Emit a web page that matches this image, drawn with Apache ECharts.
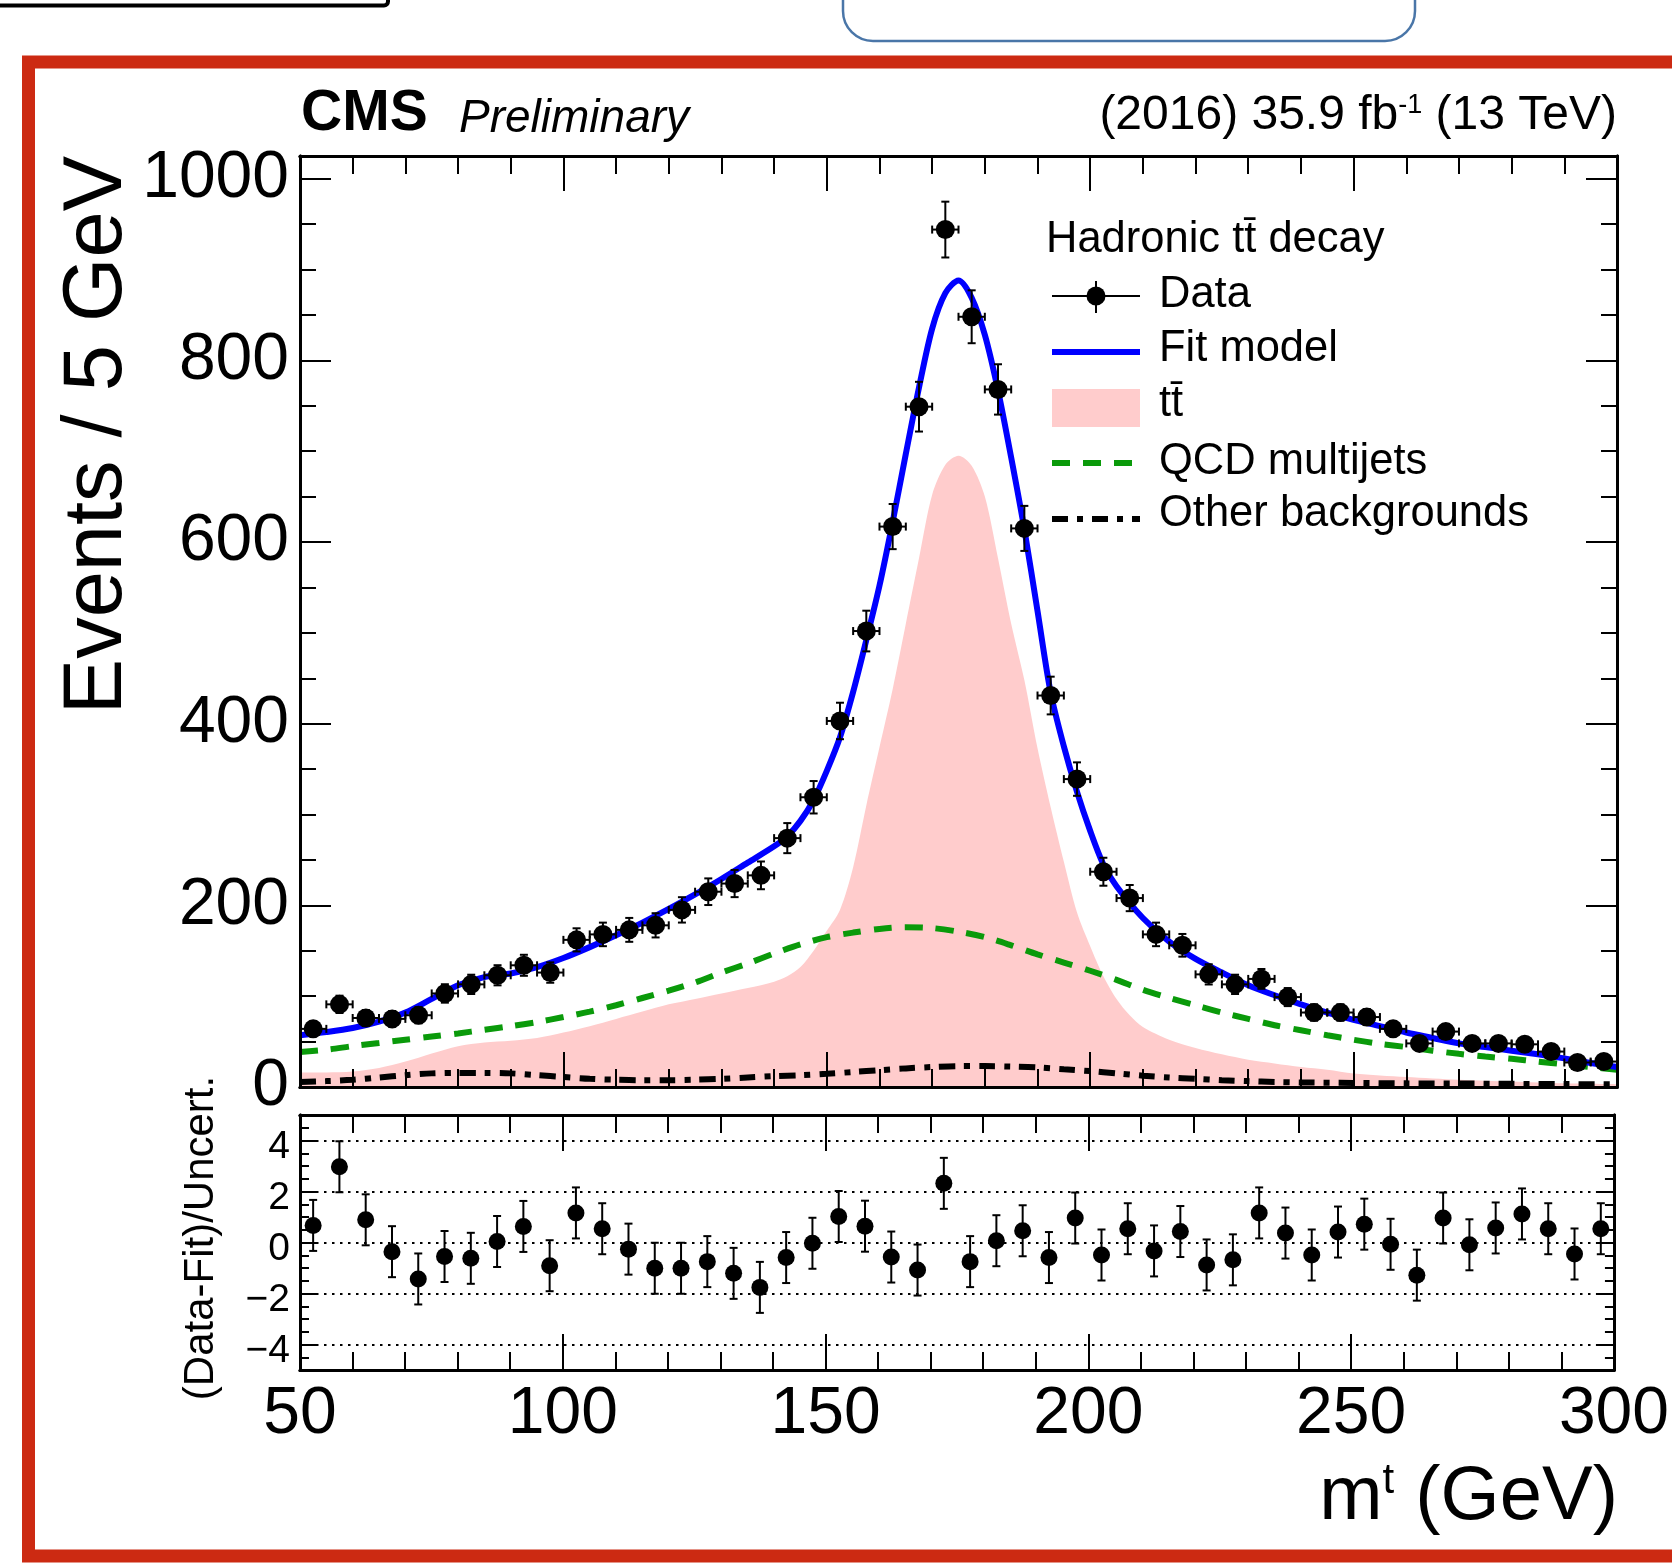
<!DOCTYPE html>
<html>
<head>
<meta charset="utf-8">
<title>Hadronic ttbar decay - top mass fit</title>
<script src="https://cdn.jsdelivr.net/npm/echarts@6/dist/echarts.min.js"></script>
<style>
  html, body { margin: 0; padding: 0; background: #fff; }
  #chart { width: 1672px; height: 1563px; }
</style>
</head>
<body>
<div id="chart"></div>
<script>
// bin centres (GeV), 5 GeV bins
const binCenters = [52.5, 57.5, 62.5, 67.5, 72.5, 77.5, 82.5, 87.5, 92.5, 97.5,
  102.5, 107.5, 112.5, 117.5, 122.5, 127.5, 132.5, 137.5, 142.5, 147.5,
  152.5, 157.5, 162.5, 167.5, 172.5, 177.5, 182.5, 187.5, 192.5, 197.5,
  202.5, 207.5, 212.5, 217.5, 222.5, 227.5, 232.5, 237.5, 242.5, 247.5,
  252.5, 257.5, 262.5, 267.5, 272.5, 277.5, 282.5, 287.5, 292.5, 297.5]
// events per bin (data)
const dataCounts = [64, 91, 76, 75, 79, 103, 113, 123, 134, 126,
  162, 168, 173, 178, 195, 215, 224, 233, 274, 319,
  403, 502, 617, 749, 944, 848, 768, 615, 431, 339,
  237, 208, 168, 156, 124, 113, 119, 99, 82, 82,
  77, 64, 48, 61, 48, 48, 47, 39, 27, 28]
// (Data-Fit)/Uncert. per bin
const pulls = [0.67, 2.97, 0.89, -0.36, -1.43, -0.55, -0.62, 0.04, 0.63, -0.91,
  1.16, 0.54, -0.26, -1.01, -1.01, -0.75, -1.21, -1.76, -0.59, -0.03,
  1.02, 0.64, -0.57, -1.08, 2.32, -0.75, 0.07, 0.46, -0.59, 0.96,
  -0.49, 0.54, -0.33, 0.43, -0.88, -0.68, 1.16, 0.37, -0.49, 0.41,
  0.72, -0.07, -1.28, 0.96, -0.09, 0.57, 1.12, 0.54, -0.45, 0.54]

// fit model curve
const fitX = [50, 55, 60, 65, 70, 75, 80, 85, 90, 95, 100, 105, 110, 115, 120, 125, 130, 135, 140,
  142.5, 145, 147.5, 150, 152.5, 155, 157.5, 160, 162.5, 165, 167.5, 170, 172.5, 175, 177.5, 180,
  182.5, 185, 187.5, 190, 192.5, 195, 197.5, 200, 202.5, 205,
  210, 215, 220, 225, 230, 235, 240, 245, 250, 255, 260, 265, 270, 275, 280, 285, 290, 295, 300]
const fitY = [57, 60.5, 65, 72, 82, 97, 112, 121, 125, 132, 142, 154, 167, 181, 196, 212, 229, 247, 265,
  276, 293, 316, 348, 385, 435, 492, 552, 622, 697, 770, 835, 874, 888, 869, 828,
  767, 693, 614, 524, 434, 375, 325, 282, 245, 221,
  186, 160, 141, 126, 112, 101, 91, 82, 74, 67, 60, 54, 48, 44, 40, 36, 31.5, 26.5, 22]

// ttbar component
const ttX = [50, 55, 60, 65, 70, 75, 80, 85, 90, 95, 100, 105, 110, 115, 120, 125, 130, 135, 140,
  142.5, 145, 147.5, 150, 152.5, 155, 157.5, 160, 162.5, 165, 167.5, 170, 172.5, 175, 177.5, 180,
  182.5, 185, 187.5, 190, 192.5, 195, 197.5, 200, 202.5, 205, 207.5, 210,
  215, 220, 225, 230, 235, 240, 245, 250, 260, 270, 280, 290, 300]
const ttY = [16, 16, 17, 21, 28, 37, 45, 49, 51, 54, 60, 67, 75, 83, 91, 97, 103, 109, 116,
  122, 132, 150, 172, 195, 242, 310, 374, 438, 510, 582, 652, 685, 695, 684, 650,
  582, 510, 448, 373, 308, 248, 192, 155, 122, 97, 79, 66,
  52, 43, 36, 30, 26, 22, 19, 15, 11, 8, 6, 4, 3]

// QCD multijet component
const qcdX = [50, 55, 60, 65, 70, 75, 80, 85, 90, 95, 100, 105, 110, 115, 120, 125, 130, 135, 140, 145,
  150, 155, 160, 165, 170, 175, 180, 185, 190, 195, 200, 205, 210, 215, 220, 225, 230, 235, 240, 245,
  250, 255, 260, 265, 270, 275, 280, 285, 290, 295, 300]
const qcdY = [38.6, 41, 45, 48.5, 52, 55.5, 59, 63, 67, 71.5, 77, 83, 90, 98, 106, 115, 126, 136, 147, 157,
  165, 170, 174, 176, 175, 171, 165, 156, 146, 137, 128, 118, 107, 98, 90, 82, 75, 68, 62.5, 57,
  52, 47.5, 44, 40, 36.5, 33.5, 31, 28, 25, 22, 19]

// other backgrounds
const otherX = [50, 55, 60, 65, 70, 75, 80, 85, 90, 95, 100, 105, 110, 115, 120, 125, 130, 135, 140, 145,
  150, 155, 160, 165, 170, 175, 180, 185, 190, 195, 200, 205, 210, 215, 220, 225, 230, 235, 240,
  250, 260, 270, 280, 290, 300]
const otherY = [5.5, 6.5, 8, 10.5, 13, 15, 15.5, 15.5, 15, 13, 11, 9, 8, 7.5, 7.5, 8, 9, 10.5, 12, 13,
  14.5, 16.5, 18.5, 20.5, 22, 23, 23, 22.5, 21.5, 19.5, 17.5, 15, 12.5, 10.5, 9, 7.5, 6.5, 5.5, 5,
  4.5, 4, 3.8, 3.5, 3.2, 3]

const pullTicks = [-4, -2, 0, 2, 4]
const pullGridLines = [-4, -2, 0, 2, 4]

const FONT = 'Liberation Sans'
const HALF_BIN = 2.5
const PULL_ERR = 1
const TT_COLOR = '#ffcccc'
const QCD_COLOR = '#0a9a0a'
const FIT_COLOR = '#0000ff'
const DASH_QCD = [18, 13]
const DASH_OTHER = [16, 9, 6, 9]
const CURVE_WIDTH = 6

function pairs (xs, ys) {
  return xs.map((x, i) => [x, ys[i]])
}

function minusSign (v) {
  return v < 0 ? '\u2212' + Math.abs(v) : String(v)
}

function xAx (gridIndex, position, interval, len, labels) {
  return {
    type: 'value', gridIndex: gridIndex, position: position, min: 50, max: 300, interval: interval, z: 10,
    axisLine: { show: true, onZero: false, lineStyle: { color: '#000', width: 3 } },
    axisTick: { show: true, inside: true, length: len, lineStyle: { color: '#000', width: 2 } },
    axisLabel: labels
      ? { show: true, margin: 12, fontSize: 66, fontFamily: FONT, color: '#000' }
      : { show: false },
    splitLine: { show: false }
  }
}

function yAx (gridIndex, position, min, max, interval, len, label, custom) {
  const ax = {
    type: 'value', gridIndex: gridIndex, position: position, min: min, max: max, interval: interval, z: 10,
    axisLine: { show: true, onZero: false, lineStyle: { color: '#000', width: 3 } },
    axisTick: { show: true, inside: true, length: len, lineStyle: { color: '#000', width: 2 } },
    axisLabel: label || { show: false },
    splitLine: { show: false }
  }
  if (custom) ax.axisTick.customValues = custom
  return ax
}

const mainLabel = {
  show: true, margin: 11, fontSize: 66, fontFamily: FONT, color: '#000', showMaxLabel: false,
  formatter: v => (v % 200 === 0 ? String(v) : '')
}
// root puts these labels a little below their tick
const pullLabel = {
  show: true, margin: 10, fontSize: 39, fontFamily: FONT, color: '#000', customValues: pullTicks,
  formatter: v => (v % 2 === 0 ? '{p|' + minusSign(v) + '}' : ''),
  rich: { p: { fontSize: 39, fontFamily: FONT, color: '#000', padding: [14, 0, 0, 0] } }
}

// data points with poisson error bars and bin-width bars
function renderData (params, api) {
  const x = api.value(0)
  const n = api.value(1)
  const err = Math.sqrt(n)
  const c = api.coord([x, n])
  const up = api.coord([x, n + err])
  const dn = api.coord([x, n - err])
  const lf = api.coord([x - HALF_BIN, n])
  const rt = api.coord([x + HALF_BIN, n])
  const st = { stroke: '#000', lineWidth: 2 }
  const cap = 4
  return {
    type: 'group',
    children: [
      { type: 'line', shape: { x1: c[0], y1: up[1], x2: c[0], y2: dn[1] }, style: st },
      { type: 'line', shape: { x1: c[0] - cap, y1: up[1], x2: c[0] + cap, y2: up[1] }, style: st },
      { type: 'line', shape: { x1: c[0] - cap, y1: dn[1], x2: c[0] + cap, y2: dn[1] }, style: st },
      { type: 'line', shape: { x1: lf[0], y1: c[1], x2: rt[0], y2: c[1] }, style: st },
      { type: 'line', shape: { x1: lf[0], y1: c[1] - cap, x2: lf[0], y2: c[1] + cap }, style: st },
      { type: 'line', shape: { x1: rt[0], y1: c[1] - cap, x2: rt[0], y2: c[1] + cap }, style: st },
      { type: 'circle', shape: { cx: c[0], cy: c[1], r: 9.5 }, style: { fill: '#000' } }
    ]
  }
}

function renderPull (params, api) {
  const x = api.value(0)
  const p = api.value(1)
  const c = api.coord([x, p])
  const up = api.coord([x, p + PULL_ERR])
  const dn = api.coord([x, p - PULL_ERR])
  const st = { stroke: '#000', lineWidth: 2 }
  const cap = 4
  return {
    type: 'group',
    children: [
      { type: 'line', shape: { x1: c[0], y1: up[1], x2: c[0], y2: dn[1] }, style: st },
      { type: 'line', shape: { x1: c[0] - cap, y1: up[1], x2: c[0] + cap, y2: up[1] }, style: st },
      { type: 'line', shape: { x1: c[0] - cap, y1: dn[1], x2: c[0] + cap, y2: dn[1] }, style: st },
      { type: 'circle', shape: { cx: c[0], cy: c[1], r: 8.5 }, style: { fill: '#000' } }
    ]
  }
}

function txt (x, y, text, size, extra) {
  return {
    type: 'text', x: x, y: y, z: 50,
    style: Object.assign({
      text: text, fontSize: size, fontFamily: FONT, fill: '#000',
      align: 'left', textAlign: 'left', verticalAlign: 'middle', textVerticalAlign: 'middle'
    }, extra || {})
  }
}

const legendX0 = 1052
const legendX1 = 1140
const legendTextX = 1159
const LEGEND_FONT = 43.5

const option = {
  animation: false,
  backgroundColor: '#fff',
  textStyle: { fontFamily: FONT },
  grid: [
    { left: 300, top: 156, width: 1317, height: 931 },
    { left: 300, top: 1115, width: 1317, height: 255 }
  ],
  xAxis: [
    xAx(0, 'bottom', 50, 35, false),
    xAx(0, 'bottom', 10, 18, false),
    xAx(0, 'top', 50, 35, false),
    xAx(0, 'top', 10, 18, false),
    xAx(1, 'bottom', 50, 36, true),
    xAx(1, 'bottom', 10, 18, false),
    xAx(1, 'top', 50, 36, false),
    xAx(1, 'top', 10, 18, false)
  ],
  yAxis: [
    yAx(0, 'left', 0, 1025, 200, 31, mainLabel),
    yAx(0, 'left', 0, 1025, 50, 16),
    yAx(0, 'right', 0, 1025, 200, 31),
    yAx(0, 'right', 0, 1025, 50, 16),
    yAx(1, 'left', -5, 5, 1, 18, pullLabel, pullTicks),
    yAx(1, 'left', -5, 5, 0.5, 9),
    yAx(1, 'right', -5, 5, 1, 18, null, pullTicks),
    yAx(1, 'right', -5, 5, 0.5, 9)
  ],
  series: [
    {
      name: 'tt', type: 'line', xAxisIndex: 0, yAxisIndex: 0, z: 1,
      data: pairs(ttX, ttY), smooth: 0.3, symbol: 'none',
      lineStyle: { width: 0, opacity: 0 },
      areaStyle: { color: TT_COLOR, opacity: 1 }
    },
    {
      name: 'QCD multijets', type: 'line', xAxisIndex: 0, yAxisIndex: 0, z: 2,
      data: pairs(qcdX, qcdY), smooth: 0.3, symbol: 'none',
      lineStyle: { color: QCD_COLOR, width: CURVE_WIDTH, type: DASH_QCD }
    },
    {
      name: 'Other backgrounds', type: 'line', xAxisIndex: 0, yAxisIndex: 0, z: 3,
      data: pairs(otherX, otherY), smooth: 0.3, symbol: 'none',
      lineStyle: { color: '#000', width: CURVE_WIDTH, type: DASH_OTHER }
    },
    {
      name: 'Fit model', type: 'line', xAxisIndex: 0, yAxisIndex: 0, z: 4,
      data: pairs(fitX, fitY), smooth: 0.3, symbol: 'none',
      lineStyle: { color: FIT_COLOR, width: CURVE_WIDTH }
    },
    {
      name: 'Data', type: 'custom', xAxisIndex: 0, yAxisIndex: 0, z: 6,
      renderItem: renderData,
      data: pairs(binCenters, dataCounts)
    },
    {
      name: 'Pull', type: 'custom', xAxisIndex: 4, yAxisIndex: 4, z: 6,
      renderItem: renderPull,
      data: pairs(binCenters, pulls),
      markLine: {
        silent: true, symbol: 'none', animation: false,
        label: { show: false },
        lineStyle: { color: '#000', width: 2, type: [2.5, 5.5] },
        data: pullGridLines.map(v => ({ yAxis: v }))
      }
    }
  ],
  graphic: [
    // slide decoration round the figure
    { type: 'rect', z: 60, shape: { x: -20, y: -20, width: 408, height: 25.5, r: 4 }, style: { fill: 'none', stroke: '#000', lineWidth: 4 } },
    { type: 'rect', z: 60, shape: { x: 843, y: -40, width: 572, height: 81, r: 30 }, style: { fill: 'none', stroke: '#4a76a8', lineWidth: 2.5 } },
    { type: 'rect', z: 60, shape: { x: 28.5, y: 62, width: 1700, height: 1494 }, style: { fill: 'none', stroke: '#cc2a12', lineWidth: 13 } },

    // header
    txt(301, 114, 'CMS', 57, { fontWeight: 'bold' }),
    txt(459, 119, 'Preliminary', 46, { fontStyle: 'italic' }),
    txt(1617, 116, '(2016) 35.9 fb{sup|-1} (13 TeV)', 48, {
      align: 'right', textAlign: 'right',
      rich: { sup: { fontSize: 27, lineHeight: 12, verticalAlign: 'top', fontFamily: FONT, fill: '#000' } }
    }),

    // axis titles
    Object.assign(txt(98, 156, 'Events / 5 GeV', 83, { align: 'right', textAlign: 'right' }), { rotation: Math.PI / 2 }),
    Object.assign(txt(201, 1238, '(Data-Fit)/Uncert.', 42, { align: 'center', textAlign: 'center' }), { rotation: Math.PI / 2 }),
    txt(1618, 1498, 'm{sup|t} (GeV)', 76, {
      align: 'right', textAlign: 'right',
      rich: { sup: { fontSize: 42, lineHeight: 12, verticalAlign: 'top', fontFamily: FONT, fill: '#000' } }
    }),

    // legend
    txt(1046, 240, 'Hadronic tt\u0304 decay', LEGEND_FONT),
    { type: 'line', z: 50, shape: { x1: legendX0, y1: 296, x2: legendX1, y2: 296 }, style: { stroke: '#000', lineWidth: 2 } },
    { type: 'line', z: 50, shape: { x1: 1096, y1: 281, x2: 1096, y2: 313 }, style: { stroke: '#000', lineWidth: 2 } },
    { type: 'circle', z: 50, shape: { cx: 1096, cy: 296, r: 9.5 }, style: { fill: '#000' } },
    txt(legendTextX, 295, 'Data', LEGEND_FONT),
    { type: 'line', z: 50, shape: { x1: legendX0, y1: 352, x2: legendX1, y2: 352 }, style: { stroke: FIT_COLOR, lineWidth: CURVE_WIDTH } },
    txt(legendTextX, 349, 'Fit model', LEGEND_FONT),
    { type: 'rect', z: 50, shape: { x: legendX0, y: 389, width: legendX1 - legendX0, height: 38 }, style: { fill: TT_COLOR } },
    txt(legendTextX, 404, 'tt\u0304', LEGEND_FONT),
    { type: 'line', z: 50, shape: { x1: legendX0, y1: 463, x2: legendX1, y2: 463 }, style: { stroke: QCD_COLOR, lineWidth: CURVE_WIDTH, lineDash: DASH_QCD } },
    txt(legendTextX, 462, 'QCD multijets', LEGEND_FONT),
    { type: 'line', z: 50, shape: { x1: legendX0, y1: 519, x2: legendX1, y2: 519 }, style: { stroke: '#000', lineWidth: CURVE_WIDTH, lineDash: DASH_OTHER } },
    txt(legendTextX, 514, 'Other backgrounds', LEGEND_FONT)
  ]
}

const chart = echarts.init(document.getElementById('chart'), null, { renderer: 'canvas' })
chart.setOption(option)
</script>
</body>
</html>
